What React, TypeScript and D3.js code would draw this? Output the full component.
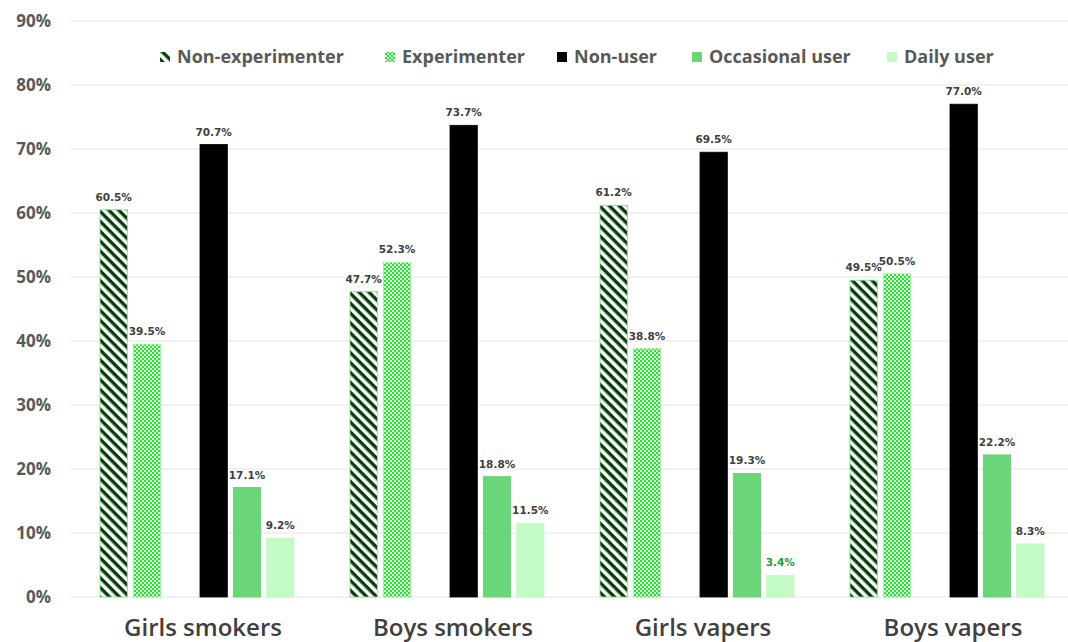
import * as d3 from "d3";
import React, { useEffect, useRef } from "react";

const groups: string[] = ["Girls smokers", "Boys smokers", "Girls vapers", "Boys vapers"];
const seriesNames: string[] = ["Non-experimenter", "Experimenter", "Non-user", "Occasional user", "Daily user"];
const nonExperimenter: number[] = [60.5, 47.7, 61.2, 49.5];
const experimenter: number[] = [39.5, 52.3, 38.8, 50.5];
const nonUser: number[] = [70.7, 73.7, 69.5, 77.0];
const occasionalUser: number[] = [17.1, 18.8, 19.3, 22.2];
const dailyUser: number[] = [9.2, 11.5, 3.4, 8.3];
const yTicks: number[] = [0, 10, 20, 30, 40, 50, 60, 70, 80, 90];

// slot order inside a group; "gap" is the empty slot between the two sets
const slots: string[] = ["Non-experimenter", "Experimenter", "gap", "Non-user", "Occasional user", "Daily user"];

const App = () => {
	const ref = useRef<SVGSVGElement>(null);

	useEffect(() => {
		const width = 1068;
		const svg = d3.select(ref.current);
		svg.selectAll("*").remove();

		const defs = svg.append("defs");
		// diagonal stripes, top-left to bottom-right
		const stripe = defs
			.append("pattern")
			.attr("id", "stripes")
			.attr("patternUnits", "userSpaceOnUse")
			.attr("width", 7)
			.attr("height", 7)
			.attr("patternTransform", "rotate(45)");
		stripe.append("rect").attr("width", 7).attr("height", 7).attr("fill", "#ffffff");
		stripe.append("rect").attr("width", 7).attr("height", 3.4).attr("fill", "#063d0a");
		// small dots
		const dots = defs
			.append("pattern")
			.attr("id", "dots")
			.attr("patternUnits", "userSpaceOnUse")
			.attr("width", 4)
			.attr("height", 4);
		dots.append("rect").attr("width", 4).attr("height", 4).attr("fill", "#d8fbd8");
		dots.append("rect").attr("width", 2).attr("height", 2).attr("fill", "#2fdc3a");
		dots.append("rect").attr("x", 2).attr("y", 2).attr("width", 2).attr("height", 2).attr("fill", "#2fdc3a");

		const fills: { [k: string]: string } = {
			"Non-experimenter": "url(#stripes)",
			Experimenter: "url(#dots)",
			"Non-user": "#000000",
			"Occasional user": "#6bd57a",
			"Daily user": "#c4fac6",
		};
		const strokes: { [k: string]: string } = {
			"Non-experimenter": "#7fe07f",
			Experimenter: "#9ff09f",
			"Non-user": "#000000",
			"Occasional user": "#5fcf6f",
			"Daily user": "#c4fac6",
		};
		const values: { [k: string]: number[] } = {
			"Non-experimenter": nonExperimenter,
			Experimenter: experimenter,
			"Non-user": nonUser,
			"Occasional user": occasionalUser,
			"Daily user": dailyUser,
		};

		const y = d3.scaleLinear().domain([0, 90]).range([597, 21]);
		const x0 = d3.scaleBand().domain(groups).range([78, 1078]);
		const x1 = d3.scaleBand().domain(slots).range([22, 216]).paddingInner(0.18);

		// grid + y labels
		svg.append("g")
			.selectAll("line")
			.data(yTicks)
			.join("line")
			.attr("x1", 70)
			.attr("x2", width)
			.attr("y1", (d) => y(d))
			.attr("y2", (d) => y(d))
			.attr("stroke", "#e4e4e4")
			.attr("stroke-width", 1);
		svg.append("g")
			.selectAll("text")
			.data(yTicks)
			.join("text")
			.attr("x", 51)
			.attr("y", (d) => y(d))
			.attr("dy", "0.35em")
			.attr("text-anchor", "end")
			.attr("font-family", "Open Sans")
			.attr("font-weight", "bold")
			.attr("font-size", 17)
			.attr("fill", "#595959")
			.text((d) => d + "%");

		// bars
		groups.forEach((g, gi) => {
			const gx = x0(g) as number;
			seriesNames.forEach((s) => {
				const v = values[s][gi];
				const bx = gx + (x1(s) as number);
				svg.append("rect")
					.attr("x", bx)
					.attr("y", y(v))
					.attr("width", x1.bandwidth())
					.attr("height", y(0) - y(v))
					.attr("fill", fills[s])
					.attr("stroke", strokes[s])
					.attr("stroke-width", 0.8);
				svg.append("text")
					.attr("x", bx + x1.bandwidth() / 2)
					.attr("y", y(v) - 9)
					.attr("text-anchor", "middle")
					.attr("font-family", "DejaVu Sans")
					.attr("font-weight", "bold")
					.attr("font-size", 10.5)
					.attr("fill", s === "Daily user" && gi === 2 ? "#1f9d2c" : "#404040")
					.text(v.toFixed(1) + "%");
			});
		});

		// category labels
		svg.append("g")
			.selectAll("text")
			.data(groups)
			.join("text")
			.attr("x", (d) => (x0(d) as number) + 125)
			.attr("y", 636)
			.attr("text-anchor", "middle")
			.attr("font-family", "Open Sans")
			.attr("font-weight", 600)
			.attr("font-size", 24)
			.attr("fill", "#404040")
			.text((d) => d);

		// legend
		const legendX = [160, 385, 557, 692, 887];
		seriesNames.forEach((s, i) => {
			const lg = svg.append("g").attr("transform", `translate(${legendX[i]}, 57)`);
			lg.append("rect")
				.attr("x", 0)
				.attr("y", -5)
				.attr("width", 10)
				.attr("height", 10)
				.attr("fill", fills[s]);
			lg.append("text")
				.attr("x", 17)
				.attr("y", 0)
				.attr("dy", "0.35em")
				.attr("font-family", "Open Sans")
				.attr("font-weight", "bold")
				.attr("font-size", 18)
				.attr("fill", "#595959")
				.text(s);
		});
	});

	return (
		<svg
			ref={ref}
			width={1068}
			height={642}
			style={{ position: "absolute", left: 0, top: 0, background: "#ffffff" }}
		></svg>
	);
};

export default App;
